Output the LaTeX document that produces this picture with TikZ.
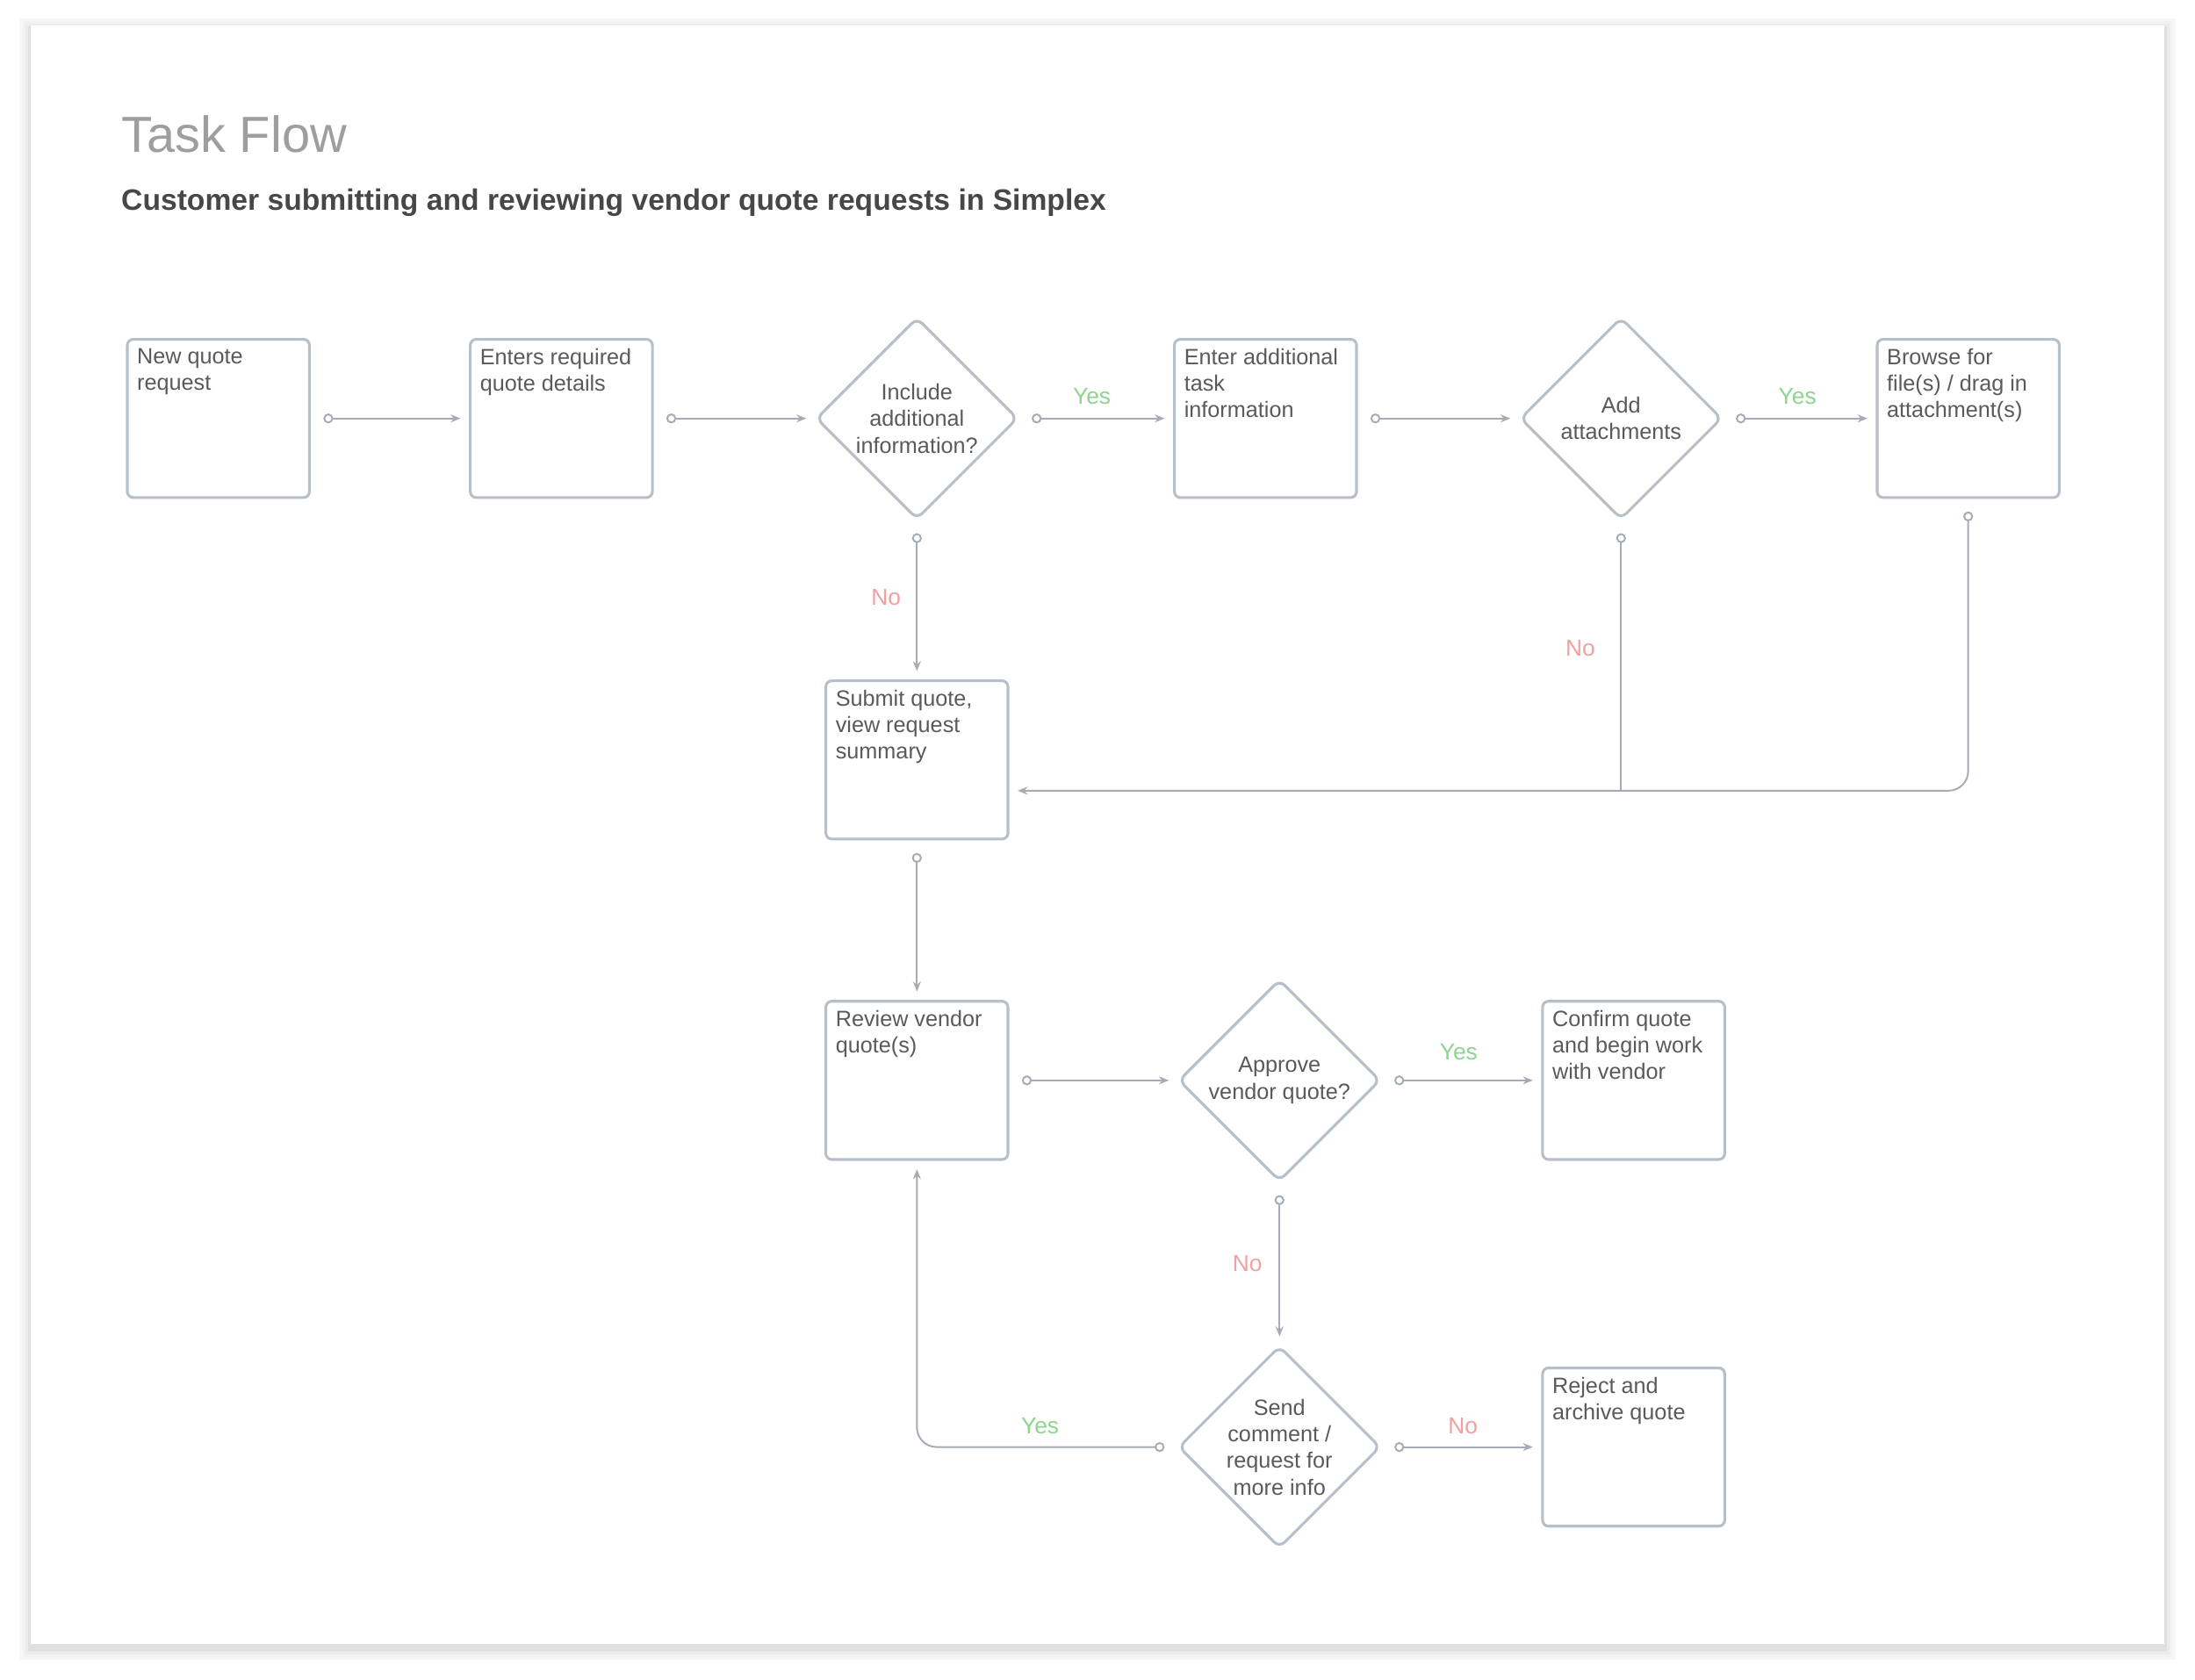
\documentclass[tikz,border=0pt]{standalone}
\usepackage{fontspec}
\setmainfont{Liberation Sans}
\usetikzlibrary{shapes.geometric,arrows.meta}
\definecolor{edge}{HTML}{B7BFC9}
\definecolor{txt}{HTML}{5A5A5A}
\definecolor{yes}{HTML}{8FD48F}
\definecolor{no}{HTML}{F2A0A0}
\begin{document}
\begin{tikzpicture}[x=0.01cm,y=-0.01cm,
  box/.style={draw=edge,line width=0.55pt,rounded corners=1.2pt,minimum width=1.3cm,minimum height=1.13cm,inner sep=0pt,font=\fontsize{4.5}{5.4}\selectfont,text=txt},
  dia/.style={draw=edge,line width=0.55pt,diamond,shape aspect=1,minimum width=1.44cm,minimum height=1.44cm,inner sep=0pt,rounded corners=1.5pt,align=center,font=\fontsize{4.5}{5.4}\selectfont,text=txt},
  conn/.style={draw=edge!90!black,line width=0.35pt,{Circle[open,length=2pt,width=2pt]}-{Stealth[length=2pt,width=1.6pt]},shorten <=0.09cm,shorten >=0.06cm,rounded corners=4pt},
  yes/.style={text=yes,font=\fontsize{4.7}{5}\selectfont},
  no/.style={text=no,font=\fontsize{4.7}{5}\selectfont}]
\useasboundingbox (0,0) rectangle (1568,1200);
\fill[white] (0,0) rectangle (1568,1200);
\foreach \i/\o in {8/3,6/5,4/8,2/12}{\fill[black!\o] (22-\i,18-\i+3) rectangle (1546+\i,1175+\i+3);}
\fill[white] (22,18) rectangle (1546,1175);
\node[anchor=west,inner sep=0pt,text=black!38,font=\fontsize{10.3}{12}\selectfont] (title) at (86,96) {Task Flow};
\node[anchor=west,inner sep=0pt,text=black!72,font=\bfseries\fontsize{6}{7}\selectfont] (sub) at (86,145) {Customer submitting and reviewing vendor quote requests in Simplex};
\newcommand{\bt}[1]{\parbox[t][1.0cm][t]{1.16cm}{\raggedright #1}}
\node[box] (a) at (156,299) {\bt{New quote\\request}};
\node[box] (b) at (401,299) {\bt{Enters required quote details}};
\node[dia] (d1) at (655,299) {Include\\additional\\information?};
\node[box] (c) at (904,299) {\bt{Enter additional task\\information}};
\node[dia] (d2) at (1158,299) {Add\\attachments};
\node[box] (e) at (1406,299) {\bt{Browse for\\file(s) / drag in attachment(s)}};
\node[box] (f) at (655,543) {\bt{Submit quote, view request summary}};
\node[box] (g) at (655,772) {\bt{Review vendor quote(s)}};
\node[dia] (d3) at (914,772) {Approve\\vendor quote?};
\node[box] (h) at (1167,772) {\bt{Confirm quote and begin work with vendor}};
\node[dia] (d4) at (914,1034) {Send\\comment /\\request for\\more info};
\node[box] (i) at (1167,1034) {\bt{Reject and archive quote}};
\coordinate (j) at (1158,565);
\coordinate (k) at (f.east |- j);
\draw[conn] (a) -- (b);
\draw[conn] (b) -- (d1);
\draw[conn] (d1) -- (c);
\draw[conn] (c) -- (d2);
\draw[conn] (d2) -- (e);
\draw[conn] (d1) -- (f);
\draw[conn,{Circle[open,length=2pt,width=2pt]}-,shorten >=0pt] (d2) -- (j);
\draw[conn] (e.south) |- (k);
\draw[conn] (f) -- (g);
\draw[conn] (g) -- (d3);
\draw[conn] (d3) -- (h);
\draw[conn] (d3) -- (d4);
\draw[conn] (d4) -- (i);
\draw[conn] (d4.west) -| (g.south);
\node[yes] (y1) at (780,283) {Yes};
\node[yes] (y2) at (1284,283) {Yes};
\node[yes] (y3) at (1042,752) {Yes};
\node[yes] (y4) at (743,1019) {Yes};
\node[no] (n1) at (633,427) {No};
\node[no] (n2) at (1129,463) {No};
\node[no] (n3) at (891,903) {No};
\node[no] (n4) at (1045,1019) {No};
\end{tikzpicture}
\end{document}
